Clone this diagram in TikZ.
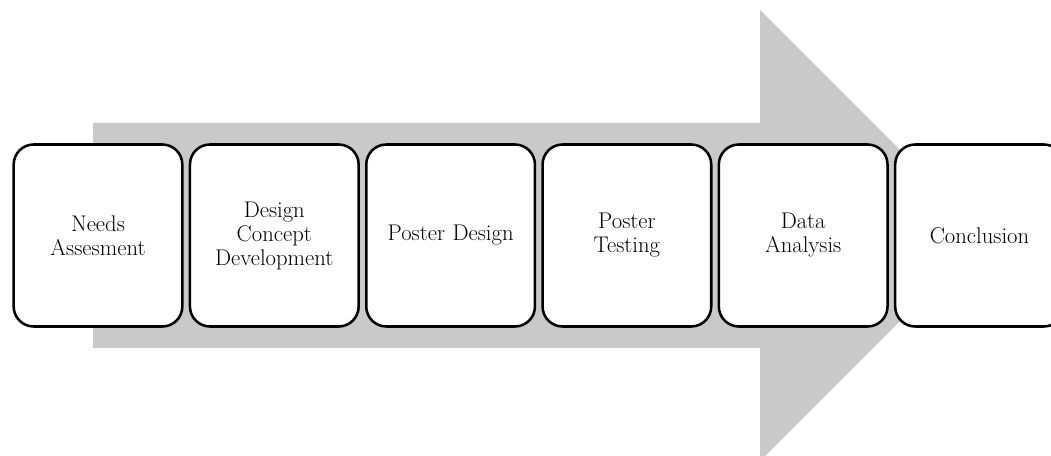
\documentclass[tikz,border=0pt]{standalone}
\definecolor{arrowgray}{HTML}{C9C9C9}
\begin{document}
\begin{tikzpicture}[x=0.75pt,y=-0.75pt,
  stagebox/.style={draw=black, line width=1.9pt, fill=white, rounded corners=15pt,
    minimum width=126.5pt, minimum height=136.5pt, align=center, text width=120pt,
    font=\fontsize{17}{18}\selectfont, inner sep=0pt}]
\useasboundingbox (0,0) rectangle (1051,456);
\clip (0,0) rectangle (1051,456);
\fill[arrowgray] (93,123) -- (760,123) -- (760,10) -- (985.5,235.5) -- (760,461) -- (760,348) -- (93,348) -- cycle;
\node[stagebox] (s1) at (98,235.5) {Needs\\Assesment};
\node[stagebox] (s2) at (274.3,235.5) {Design\\Concept\\Development};
\node[stagebox] (s3) at (450.6,235.5) {Poster Design};
\node[stagebox] (s4) at (626.9,235.5) {Poster\\Testing};
\node[stagebox] (s5) at (803.2,235.5) {Data\\Analysis};
\node[stagebox] (s6) at (979.5,235.5) {Conclusion};
\end{tikzpicture}
\end{document}
